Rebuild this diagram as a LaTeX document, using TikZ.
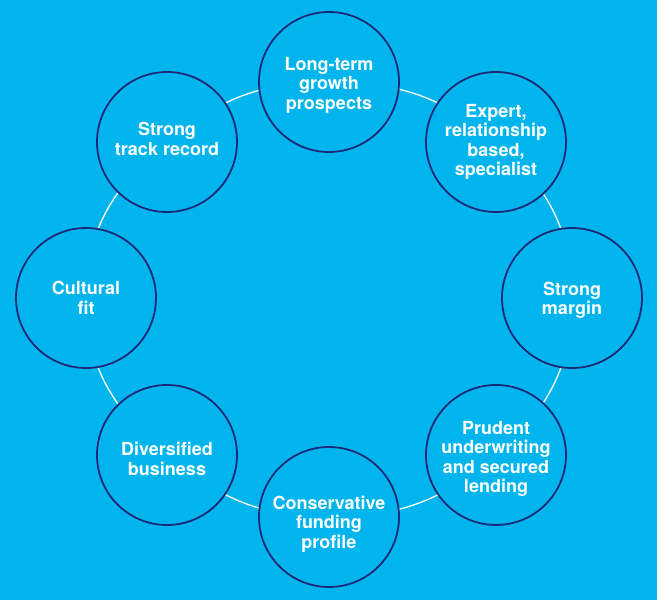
\documentclass[tikz,border=0pt]{standalone}
\usepackage{fontspec}
\setmainfont{TeX Gyre Heros}
\usetikzlibrary{backgrounds}
\definecolor{bgblue}{HTML}{00B5ED}
\definecolor{navy}{HTML}{1C2A78}
\newcommand\upstrut[1]{\rule{0pt}{#1}}
\newcommand\downstrut[1]{\rule[-#1]{0pt}{#1}}
\begin{document}
\begin{tikzpicture}[x=1pt,y=-1pt,
  bubble/.style={circle,draw=navy,fill=bgblue,line width=1.8pt,minimum size=140pt,inner sep=0pt,outer sep=0pt,
    text=white,font=\fontsize{18}{19.5}\selectfont\bfseries,align=center},
  ring/.style={draw=white,line width=1.3pt}]
\node[bubble] (top) at (329,82) {\upstrut{19.3pt}Long-term\\growth\\prospects};
\node[bubble] (expert) at (496,142) {Expert,\\relationship\\based,\\specialist};
\node[bubble] (margin) at (572,298) {\upstrut{18.3pt}Strong\\margin};
\node[bubble] (prudent) at (496,455) {\upstrut{21.3pt}Prudent\\underwriting\\and secured\\lending};
\node[bubble] (cons) at (329,517) {\upstrut{27.3pt}Conservative\\funding\\profile};
\node[bubble] (div) at (167,455) {\upstrut{21.3pt}Diversified\\business};
\node[bubble] (cult) at (86,298) {Cultural\\fit};
\node[bubble] (track) at (167,142) {Strong\\track record\downstrut{6pt}};
\begin{scope}[on background layer]
\fill[bgblue] (0,0) rectangle (657,600);
\draw[ring] (top.center) to[out=0,in=139.4] (expert.center);
\draw[ring] (expert.center) to[out=-40.6,in=90] (margin.center);
\draw[ring] (margin.center) to[out=-90,in=40.8] (prudent.center);
\draw[ring] (prudent.center) to[out=-139.2,in=0] (cons.center);
\draw[ring] (cons.center) to[out=180,in=-39.8] (div.center);
\draw[ring] (div.center) to[out=140.2,in=-90] (cult.center);
\draw[ring] (cult.center) to[out=90,in=219.6] (track.center);
\draw[ring] (track.center) to[out=39.6,in=180] (top.center);
\end{scope}
\useasboundingbox (0,0) rectangle (657,600);
\end{tikzpicture}
\end{document}
